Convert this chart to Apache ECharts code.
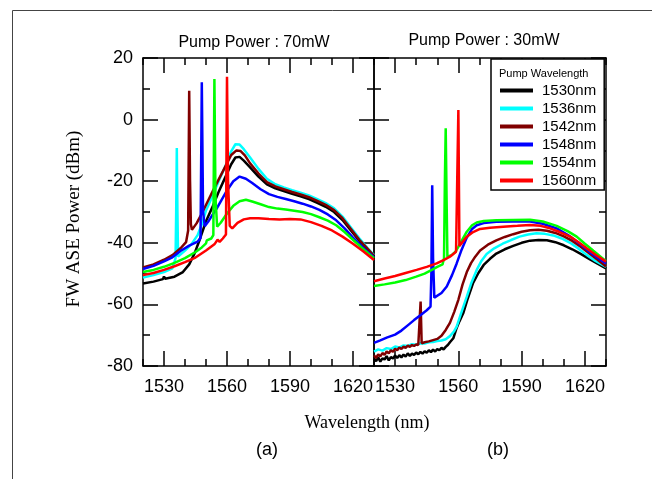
<!DOCTYPE html>
<html>
<head>
<meta charset="utf-8">
<title>FW ASE Power</title>
<script src="https://cdn.jsdelivr.net/npm/echarts@6.0.0/dist/echarts.min.js"></script>
<style>
  html, body { margin: 0; padding: 0; background: #fff; }
  #chart { width: 652px; height: 479px; }
</style>
</head>
<body>
<div id="chart"></div>
<script>
  // pump wavelengths (legend) and colours
  var names = ['1530nm', '1536nm', '1542nm', '1548nm', '1554nm', '1560nm'];
  var colors = ['#000000', '#00ffff', '#800000', '#0000ff', '#00ff00', '#ff0000'];
  var majorX = [1530, 1560, 1590, 1620];

  // (a) pump power 70mW : [wavelength nm, dBm]
  var a1530 = [[1520,-53.2],[1525,-52.6],[1529.5,-51.8],[1530,-50.9],[1530.5,-51.7],[1535,-51],[1539,-49.5],[1542,-47],[1544.5,-43.5],[1547,-39],[1550,-33],[1553,-28.5],[1556,-23.5],[1559,-19],[1562,-14.5],[1564,-12.3],[1566,-12.1],[1568,-13.3],[1571,-15.5],[1575,-18.5],[1579,-21],[1583,-22.3],[1587,-23.2],[1591,-24.1],[1595,-24.9],[1599,-25.8],[1603,-27],[1607,-28.3],[1611,-30],[1615,-32.6],[1619,-36],[1623,-39.3],[1627,-42.3],[1630,-44.3]];
  var a1536 = [[1520,-51.3],[1525,-50.5],[1530,-49.5],[1534,-48.3],[1535.5,-45],[1535.8,-30],[1536.1,-9.2],[1536.4,-30],[1536.7,-44.5],[1540,-42.5],[1543,-40.5],[1546,-37.5],[1548,-34],[1550,-29.5],[1553,-25],[1556,-20],[1559,-15.5],[1562,-10.3],[1564,-8],[1566,-8.1],[1568,-9.6],[1571,-12.3],[1575,-16],[1579,-19.2],[1583,-21],[1587,-22],[1591,-22.9],[1595,-23.7],[1599,-24.6],[1603,-25.8],[1607,-27.1],[1611,-28.8],[1615,-31.5],[1619,-35],[1623,-38.5],[1627,-41.8],[1630,-44]];
  var a1542 = [[1520,-48],[1525,-47],[1530,-45.5],[1534,-44],[1538,-41.7],[1540.5,-39.8],[1541.5,-36],[1542,9.4],[1542.4,-20],[1542.8,-34],[1543.3,-35.8],[1545.5,-33.7],[1548,-30.5],[1550.5,-27],[1553,-23.5],[1556,-19.5],[1559,-15.5],[1562,-11.5],[1564.5,-10],[1566.5,-10.2],[1568.5,-11.6],[1571,-14.2],[1575,-17.5],[1579,-20.3],[1583,-21.7],[1587,-22.6],[1591,-23.5],[1595,-24.3],[1599,-25.2],[1603,-26.4],[1607,-27.7],[1611,-29.4],[1615,-32],[1619,-35.5],[1623,-39],[1627,-42],[1630,-44.2]];
  var a1548 = [[1520,-48.5],[1525,-47.5],[1530,-46],[1534,-44.7],[1538,-42.6],[1542,-40.9],[1544,-40.3],[1546,-39.6],[1547.4,-38.5],[1548,12.1],[1548.6,-30],[1549.4,-34.6],[1551,-33.2],[1553,-31],[1555,-29],[1557.5,-26],[1560,-23],[1563,-20],[1566,-18.5],[1569,-19.2],[1572,-20.6],[1576,-22.6],[1580,-24.2],[1584,-25.1],[1588,-25.8],[1592,-26.5],[1596,-27.3],[1600,-28.2],[1604,-29.3],[1608,-30.8],[1612,-32.7],[1616,-35.3],[1620,-38.3],[1624,-41],[1627,-43],[1630,-44.7]];
  var a1554 = [[1520,-49.5],[1525,-48.8],[1530,-47.8],[1535,-46.5],[1540,-45],[1545,-43],[1548,-41.5],[1550,-40.2],[1550.4,-39.2],[1552.5,-38.6],[1553.5,-37.5],[1554,13.2],[1554.5,-25],[1555.3,-34.8],[1557,-33.5],[1560,-30.5],[1563,-28],[1566,-26.5],[1569,-26],[1572,-26.6],[1576,-27.5],[1580,-28.4],[1584,-28.9],[1588,-29.2],[1592,-29.6],[1596,-30],[1600,-30.7],[1604,-31.7],[1608,-32.8],[1612,-34.3],[1616,-36.5],[1620,-39],[1624,-41.5],[1627,-43.3],[1630,-45]];
  var a1560 = [[1520,-50.5],[1525,-49.8],[1530,-48.8],[1535,-47.6],[1540,-46.3],[1545,-44.8],[1550,-42.5],[1554,-40.5],[1555.5,-39],[1556.5,-39.7],[1558,-38.6],[1559.5,-37.3],[1560,13.9],[1560.5,-20],[1561.3,-34.5],[1562.5,-35.3],[1565,-33.5],[1568,-32.4],[1571,-32],[1575,-32],[1580,-32.3],[1585,-32.4],[1590,-32.3],[1595,-32.4],[1600,-33.3],[1605,-34.5],[1610,-36],[1615,-38],[1620,-40.3],[1625,-42.8],[1630,-45.6]];

  // (b) pump power 30mW
  var b1530 = [[1520,-77.6],[1521,-78.4],[1522,-77.2],[1523,-78.6],[1524,-77.5],[1525,-77.9],[1526,-76.8],[1527,-78.2],[1528,-77.1],[1529,-77.6],[1530,-76.6],[1531,-77.4],[1532,-76.5],[1533,-77.2],[1534,-76.3],[1535,-76.9],[1536,-75.9],[1537,-76.7],[1538,-76],[1539,-76.4],[1540,-75.6],[1541,-76.2],[1542,-75.4],[1543,-76],[1544,-75.2],[1545,-75.7],[1546,-74.9],[1547,-75.5],[1548,-74.7],[1549,-75.3],[1550,-74.5],[1551,-74.9],[1552,-74.1],[1553,-74.6],[1554,-73.8],[1555,-73.2],[1556,-72.3],[1557.6,-71],[1559,-68],[1560.5,-65.5],[1562.3,-62.9],[1564.5,-58],[1567,-53],[1569.5,-49.8],[1572,-47.2],[1575,-45.2],[1578,-43.5],[1582,-42.1],[1586,-41],[1590,-40],[1594,-39.3],[1598,-39.1],[1602,-39.2],[1606,-39.8],[1610,-40.8],[1614,-42.1],[1618,-43.6],[1622,-45.2],[1626,-46.8],[1630,-48.3]];
  var b1536 = [[1520,-75.3],[1522,-74.6],[1524,-75],[1526,-74.2],[1528,-74.5],[1530,-73.7],[1532,-74],[1534,-73.3],[1536,-73.5],[1538,-72.9],[1540,-73.1],[1542,-72.6],[1544,-72.7],[1546,-72.3],[1548,-72.2],[1550,-71.9],[1552,-71.7],[1554,-71.3],[1556,-70.3],[1558,-68.7],[1559.2,-67.2],[1561,-63.5],[1562.5,-60.5],[1564,-57.5],[1566,-53.3],[1568.7,-48.8],[1571,-45.8],[1573.4,-43.6],[1577,-41.8],[1581,-40.3],[1585,-39.1],[1589,-38],[1593,-37.3],[1597,-36.9],[1601,-37.1],[1605,-37.6],[1609,-38.6],[1613,-40],[1617,-41.9],[1621,-44],[1625,-45.9],[1630,-47.8]];
  var b1542 = [[1520,-76.5],[1521,-77.4],[1522,-76.2],[1523,-76.9],[1524,-75.8],[1525,-76.4],[1526,-75.3],[1527,-75.9],[1528,-74.9],[1529,-75.4],[1530,-74.4],[1531,-74.9],[1532,-74],[1533,-74.5],[1534,-73.7],[1535,-74.1],[1536,-73.4],[1537,-73.8],[1538,-73.2],[1539,-73.5],[1540,-73],[1541,-73.2],[1541.6,-72.8],[1542.1,-59.1],[1542.6,-72.6],[1544,-72.3],[1546,-72],[1548,-71.6],[1550,-71.2],[1552,-70.2],[1554,-68.3],[1556,-66],[1558,-62.5],[1560,-58.5],[1562,-53.5],[1564,-49.5],[1566,-46.6],[1568,-44.5],[1570.3,-42.5],[1574,-40.6],[1578,-39.2],[1582,-38.1],[1586,-37.2],[1590,-36.4],[1594,-35.9],[1598,-35.8],[1602,-36.1],[1606,-36.8],[1610,-37.9],[1614,-39.4],[1618,-41.3],[1622,-43.4],[1626,-45.5],[1630,-47.7]];
  var b1548 = [[1520,-72.5],[1523,-71.7],[1526,-70.8],[1530,-69.8],[1533,-68.5],[1536,-66.8],[1539,-65.1],[1542,-63.5],[1545,-61.9],[1546.8,-60.7],[1547.2,-50],[1547.6,-21.3],[1548,-45],[1548.6,-57.8],[1549.5,-58],[1552,-56.3],[1554.5,-54.2],[1557,-50.5],[1559.2,-46.7],[1561.5,-42.3],[1564,-38.3],[1566.5,-35.5],[1568.7,-34.3],[1572,-33.6],[1578,-33.2],[1586,-33.1],[1594,-33.1],[1600,-33.8],[1606.6,-35.3],[1612,-37.5],[1616,-39.5],[1619.2,-41.3],[1623,-43.4],[1627,-45.3],[1630,-46.7]];
  var b1554 = [[1520,-54],[1525,-53.5],[1530,-52.9],[1535,-52.1],[1540,-51],[1544,-50],[1547.4,-48.8],[1550,-47.8],[1552.5,-47],[1553.2,-45],[1553.6,-20],[1554,-2.8],[1554.4,-25],[1554.8,-44.5],[1556.8,-44],[1558.5,-43],[1560,-41.3],[1562,-38.8],[1564,-36.4],[1566.5,-34.3],[1568.7,-33.4],[1572,-32.9],[1578,-32.7],[1586,-32.6],[1594,-32.5],[1600,-33.1],[1606.6,-34.5],[1612,-36.3],[1616.1,-38],[1620,-40.3],[1624,-42.6],[1627,-44.3],[1630,-46]];
  var b1560 = [[1520,-52.5],[1525,-51.6],[1530,-50.8],[1535,-49.8],[1540.2,-48.8],[1545,-47.8],[1549.7,-46.7],[1553,-45.6],[1556,-44.5],[1558.9,-42.9],[1559.5,-42.5],[1560,3.1],[1560.5,-41],[1561,-40.6],[1562.5,-39.3],[1564,-38],[1567,-36.5],[1570.3,-35.5],[1575,-35.1],[1581.3,-34.8],[1588,-34.5],[1594,-34.2],[1599,-34.5],[1603.5,-35.3],[1608,-36.5],[1613,-38],[1617,-39.8],[1620.8,-41.8],[1625,-43.9],[1630,-46.1]];

  var dataA = [a1530, a1536, a1542, a1548, a1554, a1560];
  var dataB = [b1530, b1536, b1542, b1548, b1554, b1560];

  var sans = '"Liberation Sans", Arial, sans-serif';
  var serif = '"Liberation Serif", "Times New Roman", serif';
  var axisLine = {show: true, onZero: false, lineStyle: {color: '#000', width: 1.5}};
  var plain = function (v) { return String(v); };

  // 4 x axes per grid: bottom/top major ticks, bottom/top minor ticks
  function makeX(g) {
    var base = {gridIndex: g, type: 'value', min: 1520, max: 1630, splitLine: {show: false}};
    return [
      Object.assign({}, base, {
        position: 'bottom', axisLine: axisLine,
        axisTick: {inside: true, length: 15, customValues: majorX, lineStyle: {color: '#000', width: 1.5}},
        axisLabel: {customValues: majorX, formatter: plain, margin: 12, fontSize: 18, fontFamily: sans, color: '#000'}
      }),
      Object.assign({}, base, {
        position: 'top', axisLine: axisLine,
        axisTick: {inside: true, length: 15, customValues: majorX, lineStyle: {color: '#000', width: 1.5}},
        axisLabel: {show: false}
      }),
      Object.assign({}, base, {
        position: 'bottom', interval: 10, axisLine: {show: false, onZero: false},
        axisTick: {inside: true, length: 7, lineStyle: {color: '#000', width: 1.5}},
        axisLabel: {show: false}
      }),
      Object.assign({}, base, {
        position: 'top', interval: 10, axisLine: {show: false, onZero: false},
        axisTick: {inside: true, length: 7, lineStyle: {color: '#000', width: 1.5}},
        axisLabel: {show: false}
      })
    ];
  }

  function makeY(g) {
    var base = {
      gridIndex: g, type: 'value', min: -80, max: 20, interval: 20,
      axisLine: axisLine, splitLine: {show: false},
      axisTick: {inside: true, length: 15, lineStyle: {color: '#000', width: 1.5}},
      minorTick: {show: true, splitNumber: 2, length: 7, lineStyle: {color: '#000', width: 1.5}},
      minorSplitLine: {show: false}
    };
    return [
      Object.assign({}, base, {
        position: 'left',
        axisLabel: {show: g === 0, margin: 10, fontSize: 18, fontFamily: sans, color: '#000'}
      }),
      Object.assign({}, base, {position: 'right', axisLabel: {show: false}})
    ];
  }

  var series = [];
  [dataA, dataB].forEach(function (set, g) {
    set.forEach(function (d, i) {
      series.push({
        name: names[i],
        type: 'line',
        xAxisIndex: g * 4,
        yAxisIndex: g * 2,
        data: d,
        showSymbol: false,
        symbol: 'none',
        lineStyle: {width: 2.5, color: colors[i]},
        itemStyle: {color: colors[i]}
      });
    });
  });

  var chart = echarts.init(document.getElementById('chart'));
  chart.setOption({
    animation: false,
    backgroundColor: '#fff',
    grid: [
      {left: 143, top: 58, width: 231, height: 308},
      {left: 374, top: 58, width: 232, height: 308}
    ],
    xAxis: makeX(0).concat(makeX(1)),
    yAxis: makeY(0).concat(makeY(1)),
    legend: {
      data: names,
      orient: 'vertical',
      left: 491,
      top: 59,
      padding: [24, 8, 2, 9],
      itemGap: 3,
      itemWidth: 33,
      itemHeight: 4,
      icon: 'rect',
      backgroundColor: '#fff',
      borderColor: '#000',
      borderWidth: 1.5,
      textStyle: {fontSize: 15, fontFamily: sans, color: '#000', padding: [0, 0, 0, 4]}
    },
    graphic: [
      // page frame (left and top edge)
      {type: 'rect', shape: {x: 12.5, y: 10.5, width: 700, height: 500}, style: {fill: null, stroke: '#444', lineWidth: 1}, silent: true},
      {type: 'text', x: 254, y: 43, style: {text: 'Pump Power : 70mW', font: '16px ' + sans, fill: '#000', textAlign: 'center', textVerticalAlign: 'middle'}},
      {type: 'text', x: 484, y: 41, style: {text: 'Pump Power : 30mW', font: '16px ' + sans, fill: '#000', textAlign: 'center', textVerticalAlign: 'middle'}},
      {type: 'text', x: 499, y: 74, z: 10, style: {text: 'Pump Wavelength', font: '11px ' + sans, fill: '#000', textAlign: 'left', textVerticalAlign: 'middle'}},
      {type: 'text', x: 74, y: 219, rotation: Math.PI / 2, style: {text: 'FW ASE Power (dBm)', font: '19px ' + serif, fill: '#000', textAlign: 'center', textVerticalAlign: 'middle'}},
      {type: 'text', x: 367, y: 423, style: {text: 'Wavelength (nm)', font: '18px ' + serif, fill: '#000', textAlign: 'center', textVerticalAlign: 'middle'}},
      {type: 'text', x: 267, y: 450, style: {text: '(a)', font: '18px ' + sans, fill: '#000', textAlign: 'center', textVerticalAlign: 'middle'}},
      {type: 'text', x: 498, y: 450, style: {text: '(b)', font: '18px ' + sans, fill: '#000', textAlign: 'center', textVerticalAlign: 'middle'}}
    ],
    series: series
  });

  window.addEventListener('resize', function () {
    chart.resize();
  });
</script>
</body>
</html>
